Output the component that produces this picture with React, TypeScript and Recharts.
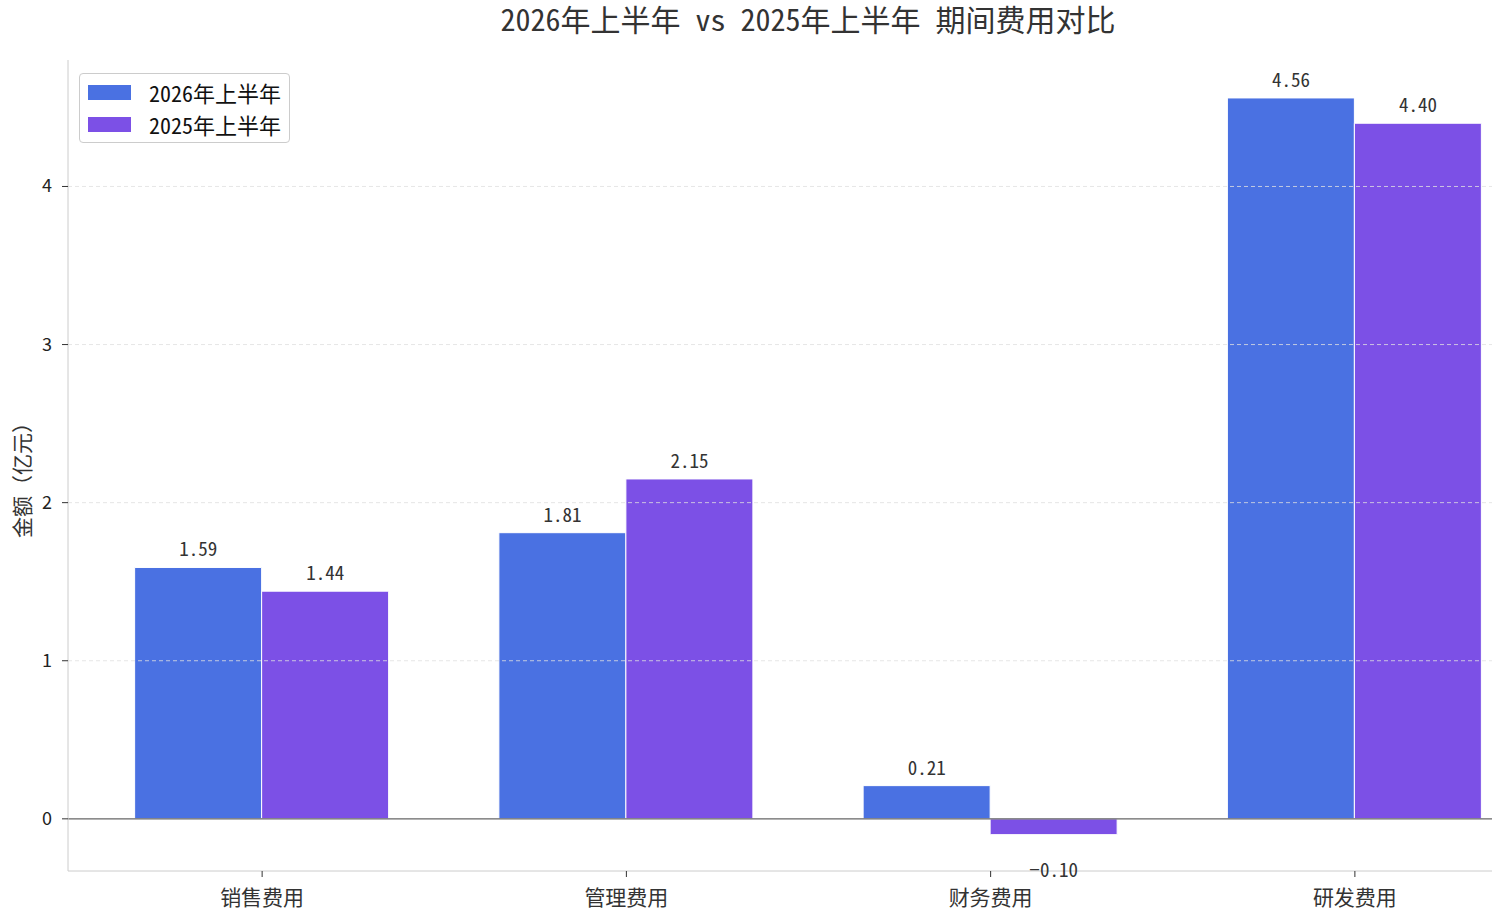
import React from 'react';
import { BarChart, Bar, XAxis, YAxis, ReferenceLine, LabelList } from 'recharts';

const categories = ['销售费用', '管理费用', '财务费用', '研发费用'];
const h1_2026 = [1.59, 1.81, 0.21, 4.56];
const h1_2025 = [1.44, 2.15, -0.1, 4.4];
const yTicks = [0, 1, 2, 3, 4];
const gridTicks = [1, 2, 3, 4];

const data = categories.map((name, i) => ({ name, cur: h1_2026[i], prev: h1_2025[i] }));

const FONT = '"Noto Sans Mono CJK SC", "Noto Sans CJK SC", "Noto Sans", sans-serif';
const PLAIN = '"Noto Sans CJK SC", "Noto Sans", sans-serif';
const BLUE = '#4a71e2';
const PURPLE = '#7c50e6';

const ValueLabel = (props: any) => {
  const { x, y, width, height, value } = props;
  const top = Math.min(y, y + height);
  const bottom = Math.max(y, y + height);
  const cx = x + width / 2;
  const ty = value >= 0 ? top - 11 : bottom + 42;
  return (
    <text x={cx} y={ty} textAnchor="middle" fontSize={19} fill="#333" fontFamily={FONT}>
      {value.toFixed(2).replace('-', '\u2212')}
    </text>
  );
};

const XTick = (props: any) => {
  const { x, y, payload } = props;
  return (
    <text x={x} y={y + 26} textAnchor="middle" fontSize={21} fill="#333" fontFamily={FONT}>
      {payload.value}
    </text>
  );
};

const YTick = (props: any) => {
  const { x, y, payload } = props;
  return (
    <text x={x - 8} y={y + 6} textAnchor="end" fontSize={18} fill="#222" fontFamily={PLAIN}>
      {payload.value}
    </text>
  );
};

export default function App() {
  return (
    <div style={{ position: 'absolute', left: 0, top: 0, width: 1492, height: 914, overflow: 'hidden', background: '#fff', fontFamily: FONT }}>
      <div style={{ position: 'absolute', left: 168, top: 0, width: 1280, textAlign: 'center', fontSize: 30, color: '#333', lineHeight: '36px', whiteSpace: 'pre' }}>
        2026年上半年 vs 2025年上半年 期间费用对比
      </div>
      <div style={{ position: 'absolute', left: 21, top: 475, transform: 'translate(-50%, -50%) rotate(-90deg)', fontSize: 21, color: '#333', whiteSpace: 'nowrap' }}>
        金额（亿元）
      </div>
      <BarChart
        width={1560}
        height={914}
        data={data}
        margin={{ top: 60, right: 11, left: 0, bottom: 0 }}
        barCategoryGap="15%"
        barGap={0}
      >
        <XAxis
          dataKey="name"
          height={43}
          padding={{ left: 12, right: 12 }}
          axisLine={{ stroke: '#ccc' }}
          tickLine={{ stroke: '#333' }}
          tickSize={6}
          tick={<XTick />}
          interval={0}
        />
        <YAxis
          width={68}
          domain={[-0.33, 4.8]}
          ticks={yTicks}
          axisLine={{ stroke: '#ccc' }}
          tickLine={{ stroke: '#333' }}
          tickSize={6}
          tick={<YTick />}
          allowDataOverflow
        />
        <Bar dataKey="cur" fill={BLUE} stroke="#fff" strokeWidth={1} isAnimationActive={false}>
          <LabelList dataKey="cur" content={<ValueLabel />} />
        </Bar>
        <Bar dataKey="prev" fill={PURPLE} stroke="#fff" strokeWidth={1} isAnimationActive={false}>
          <LabelList dataKey="prev" content={<ValueLabel />} />
        </Bar>
        {gridTicks.map((t) => (
          <ReferenceLine key={t} y={t} stroke="#e0e0e0" strokeOpacity={0.8} strokeDasharray="4 3" />
        ))}
        <ReferenceLine y={0} stroke="#666" strokeWidth={1.2} />
      </BarChart>
      <div style={{ position: 'absolute', left: 79, top: 73, width: 209, height: 68, border: '1px solid #ccc', borderRadius: 4, background: '#fff' }}>
        {[{ label: '2026年上半年', color: BLUE }, { label: '2025年上半年', color: PURPLE }].map((item, i) => (
          <div key={item.label} style={{ position: 'absolute', left: 8, top: 3 + i * 32, height: 30, display: 'flex', alignItems: 'center' }}>
            <div style={{ width: 43, height: 15, background: item.color }} />
            <div style={{ marginLeft: 18, fontSize: 22, color: '#111', whiteSpace: 'nowrap' }}>{item.label}</div>
          </div>
        ))}
      </div>
    </div>
  );
}
